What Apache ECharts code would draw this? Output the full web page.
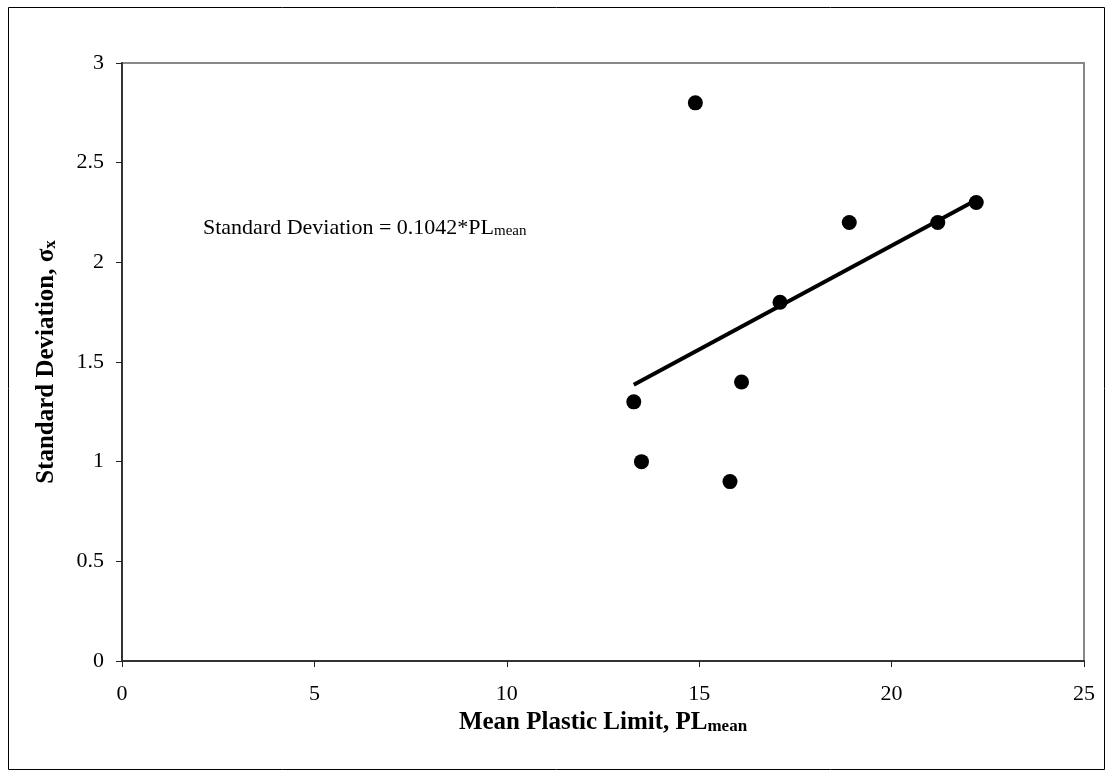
<!DOCTYPE html>
<html>
<head>
<meta charset="utf-8">
<script src="https://cdn.jsdelivr.net/npm/echarts@6/dist/echarts.min.js"></script>
<style>html,body{margin:0;padding:0;background:#fff;}#c{width:1113px;height:778px;}</style>
</head>
<body>
<div id="c"></div>
<script>
var plMean = [14.9, 18.9, 21.2, 22.2, 17.1, 13.3, 16.1, 13.5, 15.8];
var stdDev = [2.8, 2.2, 2.2, 2.3, 1.8, 1.3, 1.4, 1.0, 0.9];
var trendSlope = 0.1042;
var trendRange = [13.3, 22.2];
var xTicks = [0, 5, 10, 15, 20, 25];
var yTicks = [0, 0.5, 1, 1.5, 2, 2.5, 3];

var points = plMean.map(function (x, i) { return [x, stdDev[i]]; });
var trend = trendRange.map(function (x) { return [x, trendSlope * x]; });

var serif = '"Liberation Serif", "Times New Roman", serif';
var chart = echarts.init(document.getElementById('c'));
chart.setOption({
  animation: false,
  backgroundColor: '#fff',
  grid: { left: 122, right: 29, top: 63, bottom: 117, show: true, borderColor: '#888', borderWidth: 2, backgroundColor: 'transparent' },
  xAxis: {
    type: 'value', min: xTicks[0], max: xTicks[xTicks.length - 1], interval: 5,
    axisLine: { show: true, onZero: false, lineStyle: { color: '#333', width: 2 } },
    axisTick: { show: true, inside: false, length: 6, lineStyle: { color: '#222', width: 1 } },
    axisLabel: { color: '#000', fontFamily: serif, fontSize: 22, margin: 22 },
    splitLine: { show: false },
    name: '{b|Mean Plastic Limit, PL}{s|mean}',
    nameLocation: 'middle', nameGap: 39,
    nameTextStyle: {
      rich: {
        b: { fontFamily: serif, fontSize: 25, fontWeight: 'bold', color: '#000', lineHeight: 29, verticalAlign: 'bottom' },
        s: { fontFamily: serif, fontSize: 17, fontWeight: 'bold', color: '#000', lineHeight: 21, verticalAlign: 'bottom' }
      }
    }
  },
  yAxis: {
    type: 'value', min: yTicks[0], max: yTicks[yTicks.length - 1], interval: 0.5,
    axisLine: { show: true, onZero: false, lineStyle: { color: '#333', width: 2 } },
    axisTick: { show: true, inside: false, length: 6, lineStyle: { color: '#222', width: 1 } },
    axisLabel: { color: '#000', fontFamily: serif, fontSize: 22, margin: 18 },
    splitLine: { show: false },
    name: '{b|Standard Deviation, σ}{s|x}',
    nameLocation: 'middle', nameGap: 63, nameRotate: 90,
    nameTextStyle: {
      rich: {
        b: { fontFamily: serif, fontSize: 25, fontWeight: 'bold', color: '#000', lineHeight: 29, verticalAlign: 'bottom' },
        s: { fontFamily: serif, fontSize: 17, fontWeight: 'bold', color: '#000', lineHeight: 21, verticalAlign: 'bottom' }
      }
    }
  },
  graphic: [
    { type: 'rect', shape: { x: 8.5, y: 7.5, width: 1096, height: 762 }, style: { fill: 'none', stroke: '#000', lineWidth: 1 }, z: 100 },
    { type: 'text', left: 203, top: 217, style: {
        text: '{a|Standard Deviation = 0.1042*PL}{s|mean}',
        rich: {
          a: { fontFamily: serif, fontSize: 22, color: '#000', lineHeight: 26, verticalAlign: 'bottom' },
          s: { fontFamily: serif, fontSize: 15, color: '#000', lineHeight: 19, verticalAlign: 'bottom' }
        }
      } }
  ],
  series: [
    { type: 'line', data: trend, symbol: 'none', lineStyle: { color: '#000', width: 4 }, z: 2 },
    { type: 'scatter', data: points, symbol: 'circle', symbolSize: 15, itemStyle: { color: '#000', opacity: 1 }, z: 3 }
  ]
});
</script>
</body>
</html>
